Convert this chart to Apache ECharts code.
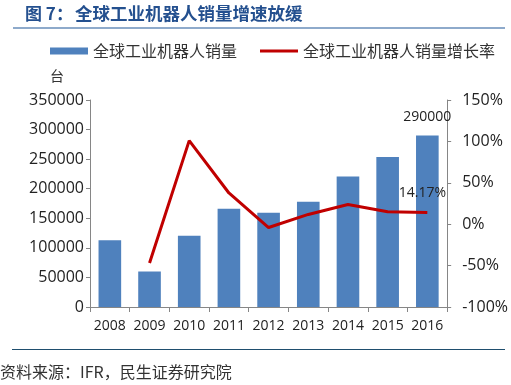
<!DOCTYPE html>
<html><head><meta charset="utf-8">
<script src="https://cdn.jsdelivr.net/npm/echarts@6/dist/echarts.min.js"></script>
<style>html,body{margin:0;padding:0;background:#fff}#c{width:511px;height:385px}</style>
</head><body><div id="c"></div>
<script>
var categories = ['2008','2009','2010','2011','2012','2013','2014','2015','2016'];
var sales = [112772, 60018, 120585, 166028, 159346, 178132, 220571, 253748, 290000];
var growth = [null, -46.8, 100.9, 37.7, -4.0, 11.8, 23.8, 15.0, 14.17];
var leftTicks = {min: 0, max: 350000, interval: 50000};
var rightTicks = {min: -100, max: 150, interval: 50};
var barName = '全球工业机器人销量';
var lineName = '全球工业机器人销量增长率';

var chart = echarts.init(document.getElementById('c'));
var font = 'Open Sans, Noto Sans CJK SC, sans-serif';
var cjk = 'Noto Sans CJK SC, sans-serif';
chart.setOption({
  animation: false,
  textStyle: {fontFamily: font},
  graphic: [
    {type: 'text', left: 25, top: 5, style: {text: '图 7：', font: 'bold 17px ' + cjk, fill: '#24508f'}},
    {type: 'text', left: 75, top: 5, style: {text: '全球工业机器人销量增速放缓', font: 'bold 17.5px ' + cjk, fill: '#24508f'}},
    {type: 'line', shape: {x1: 13, y1: 28, x2: 505, y2: 28}, style: {stroke: '#8eaacb', lineWidth: 2}},
    {type: 'text', left: 50, top: 69, style: {text: '台', font: '14px ' + cjk, fill: '#333'}},
    {type: 'line', shape: {x1: 12, y1: 349.5, x2: 505, y2: 349.5}, style: {stroke: '#1f4e6e', lineWidth: 1}},
    {type: 'text', left: 0, top: 364, style: {text: '资料来源：IFR，民生证券研究院', font: '16px ' + cjk, fill: '#333'}}
  ],
  legend: [
    {left: 50, top: 43, padding: 0, itemWidth: 38, itemHeight: 7, data: [{name: barName, icon: 'rect'}],
     textStyle: {fontFamily: cjk, fontSize: 16, color: '#333'}},
    {left: 260, top: 43, padding: 0, itemWidth: 38, itemHeight: 3, data: [{name: lineName, icon: 'rect', itemStyle: {color: '#c00000'}}],
     textStyle: {fontFamily: cjk, fontSize: 16, color: '#333'}}
  ],
  grid: {left: 90, right: 58, top: 100, bottom: 78},
  xAxis: {
    type: 'category', data: categories,
    axisLine: {lineStyle: {color: '#868686'}},
    axisTick: {show: true, length: 5, lineStyle: {color: '#868686'}},
    axisLabel: {color: '#222', fontSize: 14, margin: 12, fontFamily: font, interval: 0}
  },
  yAxis: [
    {type: 'value', min: leftTicks.min, max: leftTicks.max, interval: leftTicks.interval,
     splitLine: {show: false},
     axisLine: {show: true, lineStyle: {color: '#868686'}},
     axisTick: {show: true, length: 4, lineStyle: {color: '#868686'}},
     axisLabel: {color: '#222', fontSize: 16, margin: 6, fontFamily: font, formatter: function (v) { return String(v); }}},
    {type: 'value', min: rightTicks.min, max: rightTicks.max, interval: rightTicks.interval,
     splitLine: {show: false},
     axisLine: {show: true, lineStyle: {color: '#868686'}},
     axisTick: {show: true, length: 4, lineStyle: {color: '#868686'}},
     axisLabel: {color: '#222', fontSize: 16, margin: 15, fontFamily: font, formatter: '{value}%'}}
  ],
  series: [
    {name: barName, type: 'bar', data: sales, barWidth: '57%', itemStyle: {color: '#4f81bd'},
     label: {show: true, position: 'top', distance: 11, color: '#222', fontSize: 14, fontFamily: font,
       formatter: function (p) { return p.dataIndex === categories.length - 1 ? String(p.value) : ''; }}},
    {name: lineName, type: 'line', yAxisIndex: 1, data: growth, showSymbol: true, symbol: 'circle', symbolSize: 0,
     lineStyle: {color: '#c00000', width: 3}, itemStyle: {color: '#c00000'},
     label: {show: true, position: 'top', distance: 12, offset: [-5, 0], color: '#222', fontSize: 14, fontFamily: font,
       formatter: function (p) { return p.dataIndex === categories.length - 1 ? p.value.toFixed(2) + '%' : ''; }}}
  ]
});
</script></body></html>
